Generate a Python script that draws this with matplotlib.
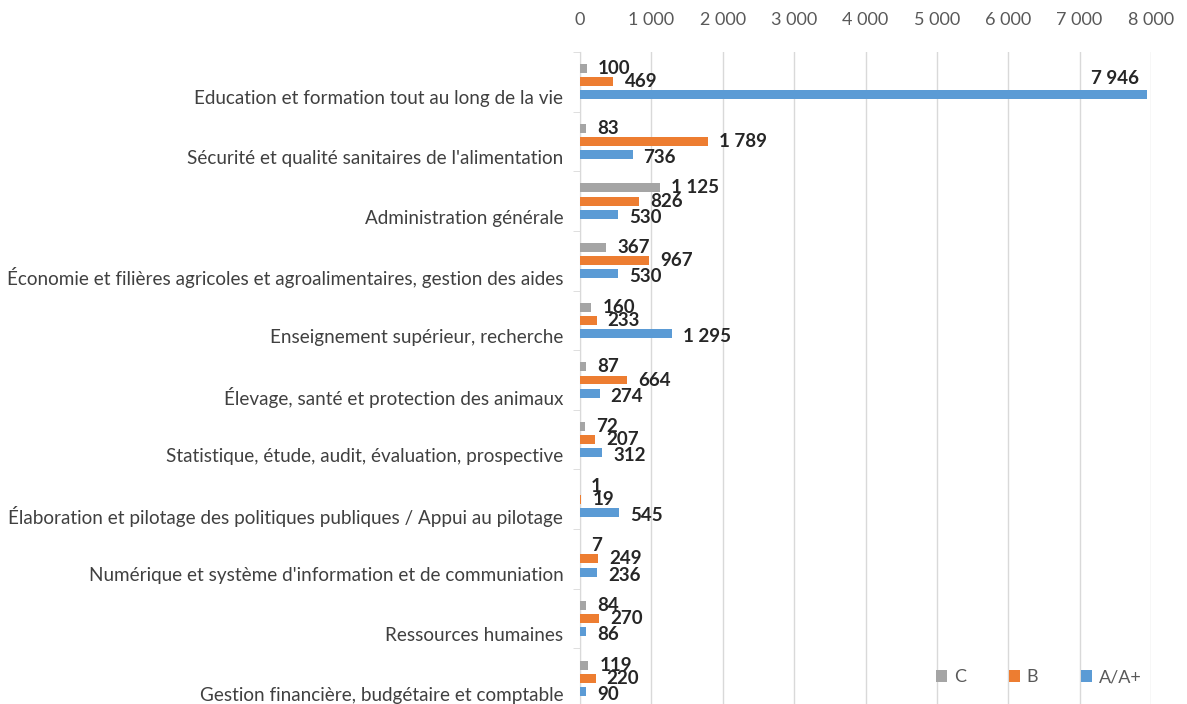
import matplotlib
matplotlib.use("Agg")
import matplotlib.pyplot as plt
from matplotlib.ticker import FuncFormatter, MultipleLocator
import numpy as np

categories = [
    "Education et formation tout au long de la vie",
    "Sécurité et qualité sanitaires de l'alimentation",
    "Administration générale",
    "Économie et filières agricoles et agroalimentaires, gestion des aides",
    "Enseignement supérieur, recherche",
    "Élevage, santé et protection des animaux",
    "Statistique, étude, audit, évaluation, prospective",
    "Élaboration et pilotage des politiques publiques / Appui au pilotage",
    "Numérique et système d'information et de communiation",
    "Ressources humaines",
    "Gestion financière, budgétaire et comptable",
]
cat_c = [100, 83, 1125, 367, 160, 87, 72, 1, 7, 84, 119]
cat_b = [469, 1789, 826, 967, 233, 664, 207, 19, 249, 270, 220]
cat_a = [7946, 736, 530, 530, 1295, 274, 312, 545, 236, 86, 90]

series = [("C", cat_c, "#A5A5A5"), ("B", cat_b, "#ED7D31"), ("A/A+", cat_a, "#5B9BD5")]

plt.rcParams["font.family"] = ["Lato", "DejaVu Sans"]

fig = plt.figure(figsize=(11.87, 7.04), dpi=100)
ax = fig.add_axes([580 / 1187, -4 / 704, 571 / 1187, 656 / 704])

y = np.arange(len(categories))
offsets = [-0.22, 0.0, 0.22]
bar_h = 0.15


def fmt(v):
    return f"{v:,}".replace(",", " ")


for (name, vals, color), off in zip(series, offsets):
    ax.barh(y + off, vals, height=bar_h, color=color, label=name, zorder=3)
    for yi, v in zip(y, vals):
        if v > 7000:
            ax.annotate(fmt(v), (v, yi + off), xytext=(-8, 16), textcoords="offset pixels",
                        ha="right", va="center", fontsize=13.5, fontweight="bold", color="#262626")
        else:
            dy = -3 if name == "A/A+" else 0
            ax.annotate(fmt(v), (v, yi + off), xytext=(11, dy), textcoords="offset pixels",
                        ha="left", va="center", fontsize=13.5, fontweight="bold", color="#262626")

ax.set_xlim(0, 8000)
ax.set_ylim(len(categories) - 0.5, -0.5)
ax.xaxis.set_major_locator(MultipleLocator(1000))
ax.xaxis.set_major_formatter(FuncFormatter(lambda v, p: fmt(int(v))))
ax.xaxis.tick_top()
ax.tick_params(axis="x", length=0, pad=17, labelsize=13, labelcolor="#595959")
ax.grid(axis="x", color="#D9D9D9", linewidth=1, zorder=0)

# category labels sit a little below the group centre, separators on the band edges
ax.set_yticks(y + 0.26)
ax.set_yticklabels(categories, fontsize=13.6, color="#404040")
ax.set_yticks(np.arange(len(categories) + 1) - 0.5, minor=True)
ax.tick_params(axis="y", which="major", length=0, pad=12)
ax.tick_params(axis="y", which="minor", length=5, color="#D9D9D9")

for side in ["top", "right", "bottom"]:
    ax.spines[side].set_visible(False)
ax.spines["left"].set_color("#D9D9D9")

ax.legend(loc="lower right", bbox_to_anchor=(1.012, 0.01), ncol=3, frameon=False,
          fontsize=13, handlelength=0.6, handleheight=0.6, columnspacing=2.35,
          handletextpad=0.4, labelcolor="#595959")

fig.savefig("out.png", dpi=100, facecolor="white")
